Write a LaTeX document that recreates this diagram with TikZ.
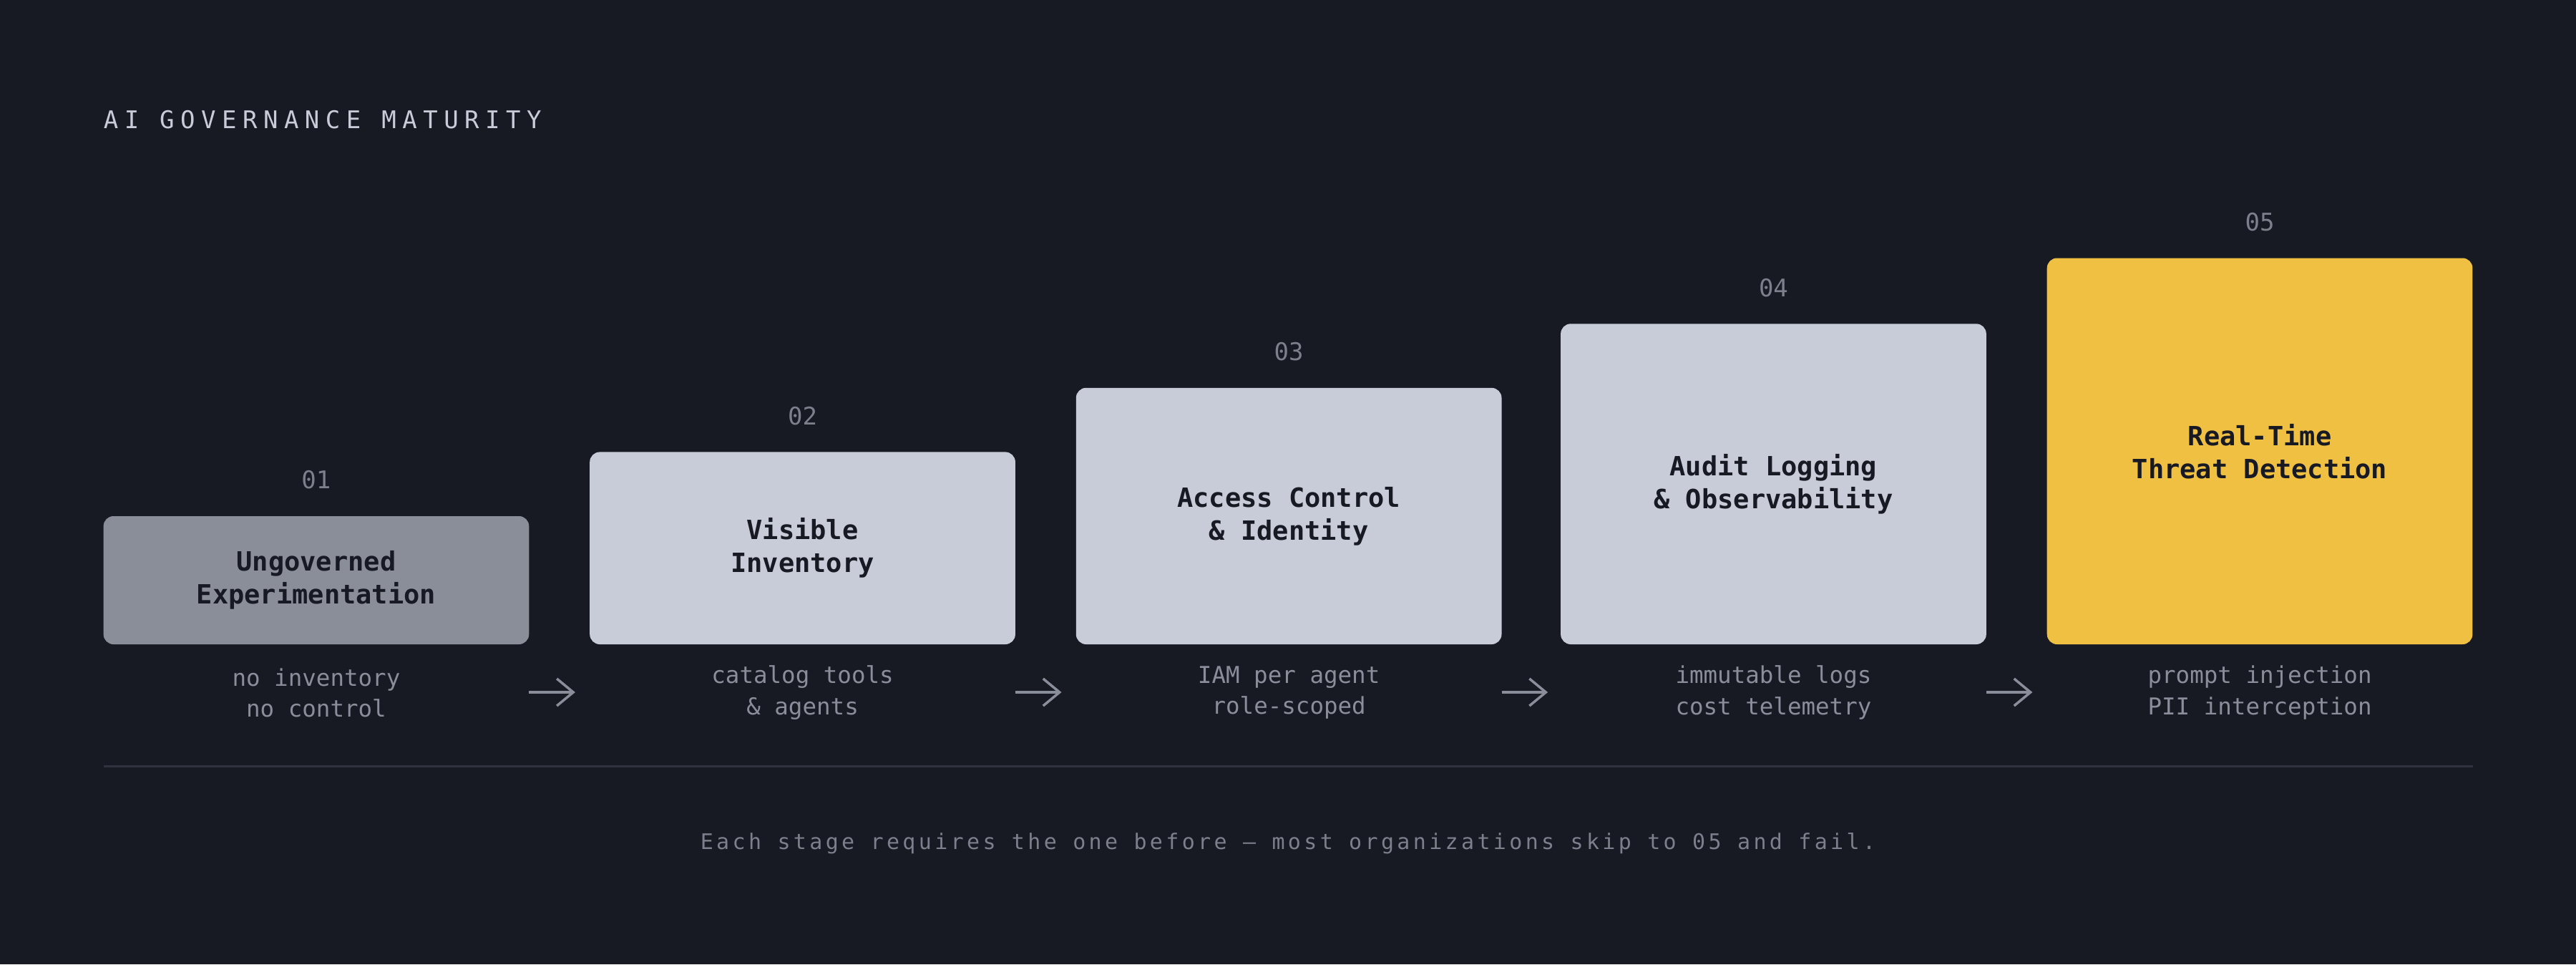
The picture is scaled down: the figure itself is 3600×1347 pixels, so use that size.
\documentclass[tikz,border=0pt]{standalone}
\usepackage{fontspec}
\setmainfont{DejaVu Sans Mono}
\setmonofont{DejaVu Sans Mono}
\newfontfamily\titlefont[LetterSpace=25]{DejaVu Sans Mono}
\newfontfamily\footfont[LetterSpace=14.5]{DejaVu Sans Mono}
\usetikzlibrary{arrows.meta}
\definecolor{bg}{HTML}{171923}
\definecolor{boxdim}{HTML}{8A8E99}
\definecolor{boxlight}{HTML}{C8CCD8}
\definecolor{boxgold}{HTML}{F0C043}
\definecolor{ink}{HTML}{171923}
\definecolor{numgray}{HTML}{7C808C}
\definecolor{subgray}{HTML}{8A8E9A}
\definecolor{titlegray}{HTML}{C8CCD8}
\definecolor{rulegray}{HTML}{30333D}
\tikzset{
  stage/.style={draw=none, rounded corners=14pt, minimum width=594.7pt, inner sep=0pt, outer sep=0pt,
    anchor=south west, align=center, text=ink, font=\fontsize{37}{46}\selectfont\bfseries},
  numlbl/.style={text=numgray, font=\fontsize{34}{40}\selectfont, inner sep=0pt},
  sublbl/.style={text=subgray, align=center, font=\fontsize{32.5}{43.6}\selectfont, inner sep=0pt},
  flow/.style={draw=subgray, line width=3.5pt, -{Straight Barb[length=23pt,width=38pt]}},
  sep/.style={draw=rulegray, line width=3pt},
}
\begin{document}
\begin{tikzpicture}[x=1pt,y=-1pt]
\fill[bg] (0,0) rectangle (3600,1347);
\useasboundingbox (0,0) rectangle (3600,1347);

\node[anchor=west, text=titlegray, inner sep=0pt, font=\titlefont\fontsize{34}{40}\selectfont] (title) at (144.6,167.6) {AI GOVERNANCE MATURITY};

\node[stage, fill=boxdim, minimum height=179pt] (b1) at (144.6,900) {Ungoverned\\Experimentation};
\node[stage, fill=boxlight, minimum height=268.6pt] (b2) at (824.2,900) {Visible\\Inventory};
\node[stage, fill=boxlight, minimum height=358.2pt] (b3) at (1503.8,900) {Access Control\\\& Identity};
\node[stage, fill=boxlight, minimum height=447.7pt] (b4) at (2181.1,900) {Audit Logging\\\& Observability};
\node[stage, fill=boxgold, minimum height=539.5pt] (b5) at (2860.7,900) {Real-Time\\Threat Detection};

\foreach \i/\t in {1/01,2/02,3/03,4/04,5/05}{
  \node[numlbl] (n\i) at ([yshift=50.6pt]b\i.north) {\t};
}

\node[sublbl] (s1) at (b1.south |- 0,967.7) {no inventory\\no control};
\node[sublbl] (s2) at (b2.south |- 0,967.7) {catalog tools\\\& agents};
\node[sublbl] (s3) at (b3.south |- 0,967.7) {IAM per agent\\role-scoped};
\node[sublbl] (s4) at (b4.south |- 0,967.7) {immutable logs\\cost telemetry};
\node[sublbl] (s5) at (b5.south |- 0,967.7) {prompt injection\\PII interception};

\foreach \i in {1,2,3,4}{
  \coordinate (as\i) at (b\i.south east |- 0,967);
  \coordinate (ae\i) at ([xshift=64.6pt]as\i);
  \draw[flow] (as\i) -- (ae\i);
}

\coordinate (r1) at (144.6,1070);
\coordinate (r2) at (3455.6,1070);
\draw[sep] (r1) -- (r2);

\node[text=numgray, inner sep=0pt, font=\footfont\fontsize{30}{36}\selectfont] (foot) at (1800,1177.8) {Each stage requires the one before — most organizations skip to 05 and fail.};
\end{tikzpicture}
\end{document}
